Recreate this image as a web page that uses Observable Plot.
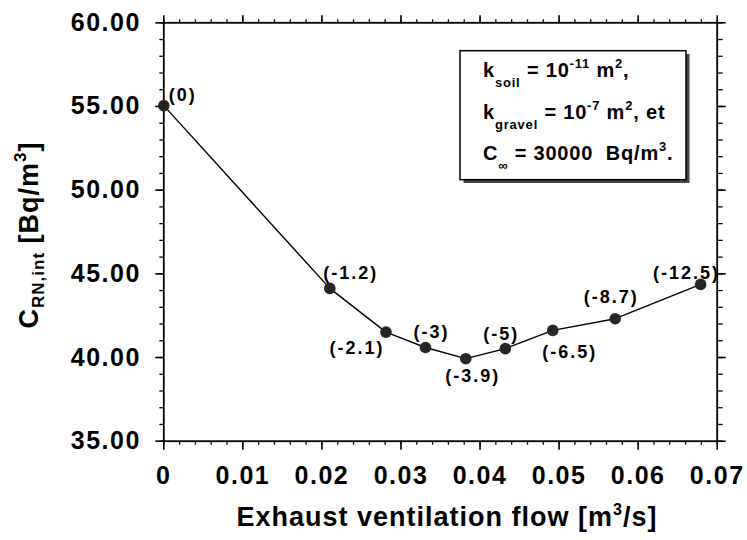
<!DOCTYPE html>
<html><head><meta charset="utf-8">
<script src="https://cdn.jsdelivr.net/npm/d3@7"></script>
<script src="https://cdn.jsdelivr.net/npm/@observablehq/plot@0.6"></script>
<style>body{margin:0;background:#fff} svg{display:block}</style>
</head><body><div id="chart"></div>
<script>
// ---- data ----
const flows = [0, 0.0210, 0.0281, 0.0331, 0.0382, 0.0432, 0.0492, 0.0571, 0.0679];
const concentrations = [55.05, 44.13, 41.52, 40.60, 39.93, 40.53, 41.62, 42.32, 44.37];
const pressureLabels = ["(0)", "(-1.2)", "(-2.1)", "(-3)", "(-3.9)", "(-5)", "(-6.5)", "(-8.7)", "(-12.5)"];
const xTicks = [0, 0.01, 0.02, 0.03, 0.04, 0.05, 0.06, 0.07];
const xTickLabels = ["0", "0.01", "0.02", "0.03", "0.04", "0.05", "0.06", "0.07"];
const yTicks = [35, 40, 45, 50, 55, 60];
const yTickLabels = ["35.00", "40.00", "45.00", "50.00", "55.00", "60.00"];
const xMinor = d3.range(0, 36).map(i => +(i * 0.002).toFixed(3));
const yMinor = d3.range(35, 61);

// ---- layout / style ----
const font = "'Liberation Sans', Arial, Helvetica, sans-serif";
// label placement relative to each point: [dx, dy, anchor]
const labelPlacement = [[5, -10, "start"], [21, -15, "middle"], [-29, 16, "middle"], [6, -15, "middle"], [7, 18, "middle"], [-4, -14, "middle"], [17, 22, "middle"], [-4, -21, "middle"], [-14, -11, "middle"]];

const data = flows.map((f, i) => ({flow: f, c: concentrations[i], label: pressureLabels[i], i}));

const labelMarks = labelPlacement.map(([dx, dy, anchor], k) =>
  Plot.text(data, {filter: d => d.i === k, x: "flow", y: "c", text: "label", dx, dy,
    textAnchor: anchor, lineAnchor: "middle", fontSize: 18, fontWeight: "bold", fill: "#000"}));

const svg = Plot.plot({
  width: 747, height: 540,
  marginLeft: 163.3, marginRight: 30.3, marginTop: 22.3, marginBottom: 99.3,
  x: {domain: [0, 0.07]},
  y: {domain: [35, 60]},
  style: {fontFamily: font, background: "#fff", color: "#000", overflow: "visible"},
  marks: [
    Plot.axisX(xTicks, {anchor: "bottom", tickSize: 9, tickPadding: 16, tickFormat: d => xTickLabels[xTicks.indexOf(d)], fontSize: 25, fontWeight: "bold", label: null, strokeWidth: 1.6}),
    Plot.axisX(xMinor, {anchor: "bottom", tickSize: 4, fill: "none", label: null, strokeWidth: 1.3}),
    Plot.axisX(xTicks, {anchor: "top", tickSize: 8, fill: "none", label: null, strokeWidth: 1.6}),
    Plot.axisX(xMinor, {anchor: "top", tickSize: 4, fill: "none", label: null, strokeWidth: 1.3}),
    Plot.axisY(yTicks, {anchor: "left", tickSize: 8, tickPadding: 15, tickFormat: d => yTickLabels[yTicks.indexOf(d)], fontSize: 25, fontWeight: "bold", label: null, strokeWidth: 1.6}),
    Plot.axisY(yMinor, {anchor: "left", tickSize: 4, fill: "none", label: null, strokeWidth: 1.3}),
    Plot.axisY(yTicks, {anchor: "right", tickSize: 8, fill: "none", label: null, strokeWidth: 1.6}),
    Plot.axisY(yMinor, {anchor: "right", tickSize: 5, fill: "none", label: null, strokeWidth: 1.3}),
    Plot.frame({stroke: "#000", strokeWidth: 1.8}),
    Plot.line(data, {x: "flow", y: "c", stroke: "#000", strokeWidth: 1.4}),
    Plot.dot(data, {x: "flow", y: "c", r: 5.8, fill: "#262626", stroke: "none"}),
    ...labelMarks
  ]
});

const s = d3.select(svg);
s.selectAll('g[aria-label="x-axis tick label"] text, g[aria-label="y-axis tick label"] text').style("letter-spacing", "1.5px");
s.selectAll('g[aria-label="text"] text').style("letter-spacing", "2px");

// x-axis title
const xt = s.append("text").attr("x", 447).attr("y", 526).attr("text-anchor", "middle")
  .attr("font-family", font).attr("font-weight", "bold").attr("font-size", 27).style("letter-spacing", "1px");
xt.append("tspan").text("Exhaust ventilation flow [m");
xt.append("tspan").attr("font-size", 16).attr("dy", -11).text("3");
xt.append("tspan").attr("dy", 11).text("/s]");

// y-axis title
const yt = s.append("text").attr("transform", "translate(38,235) rotate(-90)").attr("text-anchor", "middle")
  .attr("font-family", font).attr("font-weight", "bold").attr("font-size", 27).style("letter-spacing", "1px");
yt.append("tspan").text("C");
yt.append("tspan").attr("font-size", 17).attr("dy", 6).text("RN,int");
yt.append("tspan").attr("dy", -6).text(" [Bq/m");
yt.append("tspan").attr("font-size", 17).attr("dy", -12).text("3");
yt.append("tspan").attr("dy", 12).text("]");

// annotation box
const box = s.append("g");
box.append("rect").attr("x", 463.5).attr("y", 54).attr("width", 226).attr("height", 129).attr("fill", "#444");
box.append("rect").attr("x", 460).attr("y", 50.7).attr("width", 226).attr("height", 129).attr("fill", "#fff").attr("stroke", "#000").attr("stroke-width", 1.5);

function line(y, parts) {
  const t = box.append("text").attr("x", 483).attr("y", y).attr("text-anchor", "start").attr("font-family", font).attr("font-weight", "bold")
    .attr("font-size", 20).style("letter-spacing", "0.8px");
  let shift = 0;
  for (const [txt, kind] of parts) {
    const sp = t.append("tspan").text(txt);
    const target = kind === "sub" ? 10 : kind === "sup" ? -9 : 0;
    if (target !== shift) { sp.attr("dy", target - shift); shift = target; }
    if (kind) sp.attr("font-size", 13);
  }
}
line(77, [["k"], ["soil", "sub"], [" = 10"], ["-11", "sup"], [" m"], ["2", "sup"], [","]]);
line(118.5, [["k"], ["gravel", "sub"], [" = 10"], ["-7", "sup"], [" m"], ["2", "sup"], [", et"]]);
line(160, [["C"], ["\u221E", "sub"], [" = 30000  Bq/m"], ["3", "sup"], ["."]]);

document.getElementById("chart").appendChild(svg);
</script>
</body></html>
